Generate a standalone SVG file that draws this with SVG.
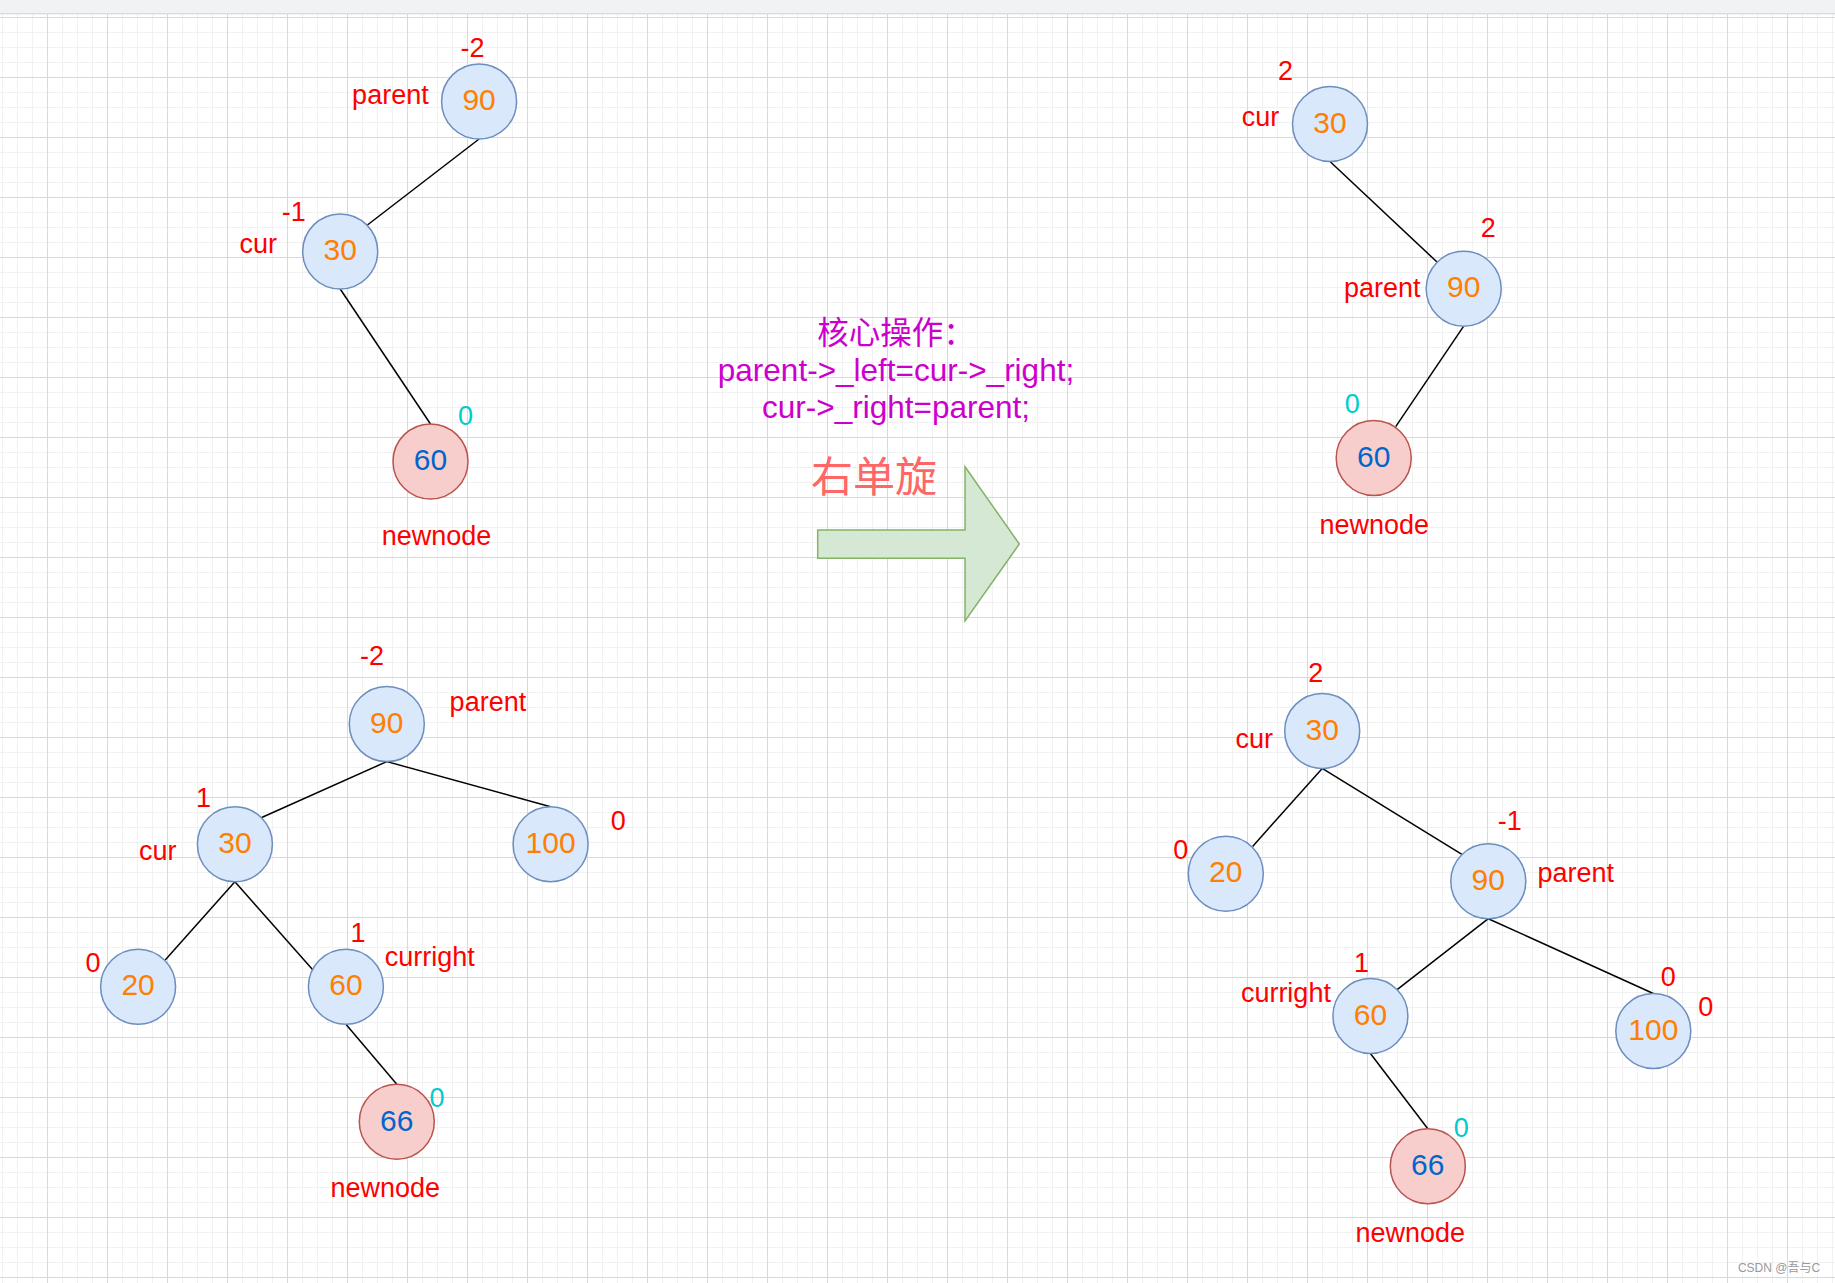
<svg xmlns="http://www.w3.org/2000/svg" width="1835" height="1283" viewBox="0 0 1835 1283">
<defs>
<pattern id="grid" width="60" height="60" patternUnits="userSpaceOnUse" x="47" y="17">
<rect x="15" y="0" width="1" height="60" fill="#f1f1f1"/>
<rect x="30" y="0" width="1" height="60" fill="#f1f1f1"/>
<rect x="45" y="0" width="1" height="60" fill="#f1f1f1"/>
<rect x="0" y="15" width="60" height="1" fill="#f1f1f1"/>
<rect x="0" y="30" width="60" height="1" fill="#f1f1f1"/>
<rect x="0" y="45" width="60" height="1" fill="#f1f1f1"/>
<rect x="0" y="0" width="1" height="60" fill="#d9d9d9"/>
<rect x="0" y="0" width="60" height="1" fill="#d9d9d9"/>
</pattern>
</defs>
<style>
text{font-family:"Liberation Sans",Arial,sans-serif;font-size:27px;text-anchor:middle}
.lbl{fill:#ff0000}
.val{fill:#ff8000;font-size:30px}
.nv{fill:#0066cc;font-size:30px}
.cy{fill:#00cccc}
.n{fill:#dae8fc;stroke:#6c8ebf;stroke-width:1.5}
.r{fill:#f8cecc;stroke:#b85450;stroke-width:1.5}
.e line{stroke:#000;stroke-width:1.5}
.cjk{font-family:"Liberation Sans","Noto Sans CJK SC",sans-serif}
</style>
<rect x="0" y="0" width="1835" height="1283" fill="#ffffff"/>
<rect x="0" y="14" width="1835" height="1269" fill="url(#grid)"/>
<rect x="0" y="0" width="1835" height="13.5" fill="#f1f2f4"/>
<line x1="0" y1="13.8" x2="1835" y2="13.8" stroke="#d0d0d0" stroke-width="1"/>

<g id="connectors" class="e">
<line x1="479.1" y1="139" x2="367.4" y2="225"/>
<line x1="340.2" y1="289" x2="430.5" y2="424"/>
<line x1="386.8" y1="761.6" x2="261.7" y2="817.5"/>
<line x1="386.8" y1="761.6" x2="550.6" y2="806.8"/>
<line x1="234.9" y1="881.8" x2="165.2" y2="959.9"/>
<line x1="234.9" y1="881.8" x2="314.5" y2="971.7"/>
<line x1="345.9" y1="1024.2" x2="396.8" y2="1084.3"/>
<line x1="1330" y1="161.5" x2="1437.3" y2="262.3"/>
<line x1="1463.7" y1="326.2" x2="1395.7" y2="426.7"/>
<line x1="1322.2" y1="768.4" x2="1252.6" y2="846.4"/>
<line x1="1322.2" y1="768.4" x2="1461.9" y2="854.3"/>
<line x1="1488.3" y1="918.7" x2="1396.8" y2="989.9"/>
<line x1="1488.3" y1="918.7" x2="1653.3" y2="993.5"/>
<line x1="1370.4" y1="1053.5" x2="1427.8" y2="1128.8"/>
</g>

<!-- Tree 1 -->
<g id="t1-n90"><circle class="n" cx="479.1" cy="101.4" r="37.5"/><text class="val" x="479.1" y="110.1">90</text></g>
<g id="t1-n30"><circle class="n" cx="340.2" cy="251.4" r="37.5"/><text class="val" x="340.2" y="260.1">30</text></g>
<g id="t1-n60"><circle class="r" cx="430.5" cy="461.4" r="37.5"/><text class="nv" x="430.5" y="470.1">60</text></g>
<g id="t1-labels">
<text class="lbl" x="472.6" y="57.1">-2</text>
<text class="lbl" x="390.4" y="103.6">parent</text>
<text class="lbl" x="293.7" y="221.4">-1</text>
<text class="lbl" x="258.3" y="252.8">cur</text>
<text class="cy" x="465.5" y="425">0</text>
<text class="lbl" x="436.6" y="544.6">newnode</text>
</g>

<!-- Tree 2 -->
<g id="t2-n90"><circle class="n" cx="386.8" cy="724.1" r="37.5"/><text class="val" x="386.8" y="732.8">90</text></g>
<g id="t2-n30"><circle class="n" cx="234.9" cy="844.3" r="37.5"/><text class="val" x="234.9" y="853">30</text></g>
<g id="t2-n100"><circle class="n" cx="550.6" cy="844.3" r="37.5"/><text class="val" x="550.6" y="853">100</text></g>
<g id="t2-n20"><circle class="n" cx="138.1" cy="986.7" r="37.5"/><text class="val" x="138.1" y="995.4">20</text></g>
<g id="t2-n60"><circle class="n" cx="345.9" cy="986.7" r="37.5"/><text class="val" x="345.9" y="995.4">60</text></g>
<g id="t2-n66"><circle class="r" cx="396.8" cy="1121.8" r="37.5"/><text class="nv" x="396.8" y="1130.5">66</text></g>
<g id="t2-labels">
<text class="lbl" x="372.1" y="665.2">-2</text>
<text class="lbl" x="487.9" y="711.1">parent</text>
<text class="lbl" x="203.5" y="806.8">1</text>
<text class="lbl" x="157.8" y="860.4">cur</text>
<text class="lbl" x="618.2" y="830.2">0</text>
<text class="lbl" x="93.1" y="971.8">0</text>
<text class="lbl" x="358.1" y="941.9">1</text>
<text class="lbl" x="429.7" y="965.6">curright</text>
<text class="cy" x="437" y="1106.5">0</text>
<text class="lbl" x="385.3" y="1197.2">newnode</text>
</g>

<!-- Tree 3 -->
<g id="t3-n30"><circle class="n" cx="1330" cy="124" r="37.5"/><text class="val" x="1330" y="132.7">30</text></g>
<g id="t3-n90"><circle class="n" cx="1463.7" cy="288.7" r="37.5"/><text class="val" x="1463.7" y="297.4">90</text></g>
<g id="t3-n60"><circle class="r" cx="1373.7" cy="458" r="37.5"/><text class="nv" x="1373.7" y="466.7">60</text></g>
<g id="t3-labels">
<text class="lbl" x="1285.5" y="80">2</text>
<text class="lbl" x="1260.5" y="125.7">cur</text>
<text class="lbl" x="1488.3" y="237.3">2</text>
<text class="lbl" x="1382.2" y="297.3">parent</text>
<text class="cy" x="1352.2" y="413.3">0</text>
<text class="lbl" x="1374.3" y="534">newnode</text>
</g>

<!-- Tree 4 -->
<g id="t4-n30"><circle class="n" cx="1322.2" cy="730.9" r="37.5"/><text class="val" x="1322.2" y="739.6">30</text></g>
<g id="t4-n20"><circle class="n" cx="1225.8" cy="873.7" r="37.5"/><text class="val" x="1225.8" y="882.4">20</text></g>
<g id="t4-n90"><circle class="n" cx="1488.3" cy="881.2" r="37.5"/><text class="val" x="1488.3" y="889.9">90</text></g>
<g id="t4-n60"><circle class="n" cx="1370.4" cy="1016" r="37.5"/><text class="val" x="1370.4" y="1024.7">60</text></g>
<g id="t4-n100"><circle class="n" cx="1653.3" cy="1031" r="37.5"/><text class="val" x="1653.3" y="1039.7">100</text></g>
<g id="t4-n66"><circle class="r" cx="1427.8" cy="1166.3" r="37.5"/><text class="nv" x="1427.8" y="1175">66</text></g>
<g id="t4-labels">
<text class="lbl" x="1315.7" y="681.5">2</text>
<text class="lbl" x="1254.3" y="747.5">cur</text>
<text class="lbl" x="1180.8" y="859.4">0</text>
<text class="lbl" x="1509.7" y="829.8">-1</text>
<text class="lbl" x="1575.7" y="882">parent</text>
<text class="lbl" x="1361.5" y="972.1">1</text>
<text class="lbl" x="1285.9" y="1001.8">curright</text>
<text class="lbl" x="1668.2" y="986">0</text>
<text class="lbl" x="1705.7" y="1016.4">0</text>
<text class="cy" x="1461.3" y="1137">0</text>
<text class="lbl" x="1410.3" y="1241.8">newnode</text>
</g>

<!-- Center -->
<g id="core-text">
<text class="cjk" x="896" y="344" style="font-size:31.5px;fill:#cc00cc">核心操作：</text>
<text class="cjk" x="896" y="381" style="font-size:31.5px;fill:#cc00cc">parent-&gt;_left=cur-&gt;_right;</text>
<text class="cjk" x="896" y="418" style="font-size:31.5px;fill:#cc00cc">cur-&gt;_right=parent;</text>
</g>
<g id="rotate-label">
<text class="cjk" x="874" y="492" style="font-size:42px;fill:#ff6666">右单旋</text>
</g>
<g id="arrow">
<polygon points="817.7,530 965,530 965,466.7 1019.3,544 965,621 965,558.3 817.7,558.3" fill="#d5e8d4" stroke="#82b366" stroke-width="1.5"/>
</g>
<text class="cjk" x="1779" y="1272.3" style="font-size:12px;fill:#999999">CSDN @吾与C</text>
</svg>
